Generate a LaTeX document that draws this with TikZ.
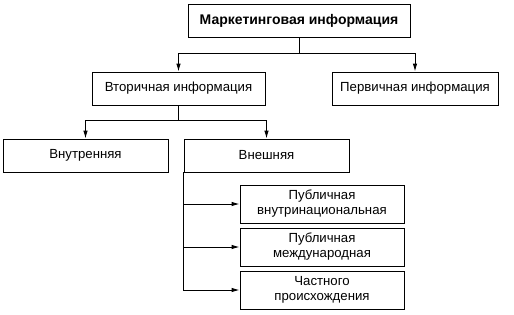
\documentclass[tikz,border=0pt]{standalone}
\usepackage{fontspec}
\setmainfont{Liberation Sans}
\usetikzlibrary{arrows.meta}
\tikzset{MIbox/.style={draw,line width=0.9pt,inner sep=2pt,align=center,font=\fontsize{13.2}{14}\selectfont},
         MIarr/.style={-{Latex[length=8pt,width=4.5pt]}},
         MIln/.style={line width=0.9pt}}
\begin{document}
\begin{tikzpicture}[x=1pt,y=-1pt]
  \useasboundingbox (0,0) rectangle (514,314);
  % levels one and two
  \node[MIbox,minimum width=222pt,minimum height=33pt,font=\fontsize{14}{15}\selectfont\bfseries] (mi) at (299,21) {Маркетинговая информация};
  \node[MIbox,minimum width=173pt,minimum height=33pt] (vi) at (178.5,88.5) {Вторичная информация};
  \node[MIbox,minimum width=166pt,minimum height=33pt] (pi) at (415,88.5) {Первичная информация};
  % level three
  \node[MIbox,minimum width=165pt,minimum height=33pt] (vn) at (85.5,155.5) {Внутренняя};
  \node[MIbox,minimum width=165pt,minimum height=33pt] (vs) at (266.5,155.5) {Внешняя};
  % sources of external information
  \foreach \n/\y/\t in {p1/204/{Публичная\\внутринациональная},p2/247/{Публичная\\международная},p3/290/{Частного\\происхождения}}
    \node[MIbox,minimum width=164pt,minimum height=38pt,font=\fontsize{13.2}{15}\selectfont] (\n) at (322,\y) {\t};
  \draw[MIln] (mi.south) -- ++(0,15) coordinate (m1);
  \draw[MIln,MIarr] (m1) -| (vi.north); \draw[MIln,MIarr] (m1) -| (pi.north);
  \draw[MIln] (vi.south) -- ++(0,15) coordinate (v1);
  \draw[MIln,MIarr] (v1) -| (vn.north); \draw[MIln,MIarr] (v1) -| (vs.north);
  \foreach \n in {p1,p2,p3} \draw[MIln,MIarr] (vs.south west) |- (\n.west);
\end{tikzpicture}
\end{document}
